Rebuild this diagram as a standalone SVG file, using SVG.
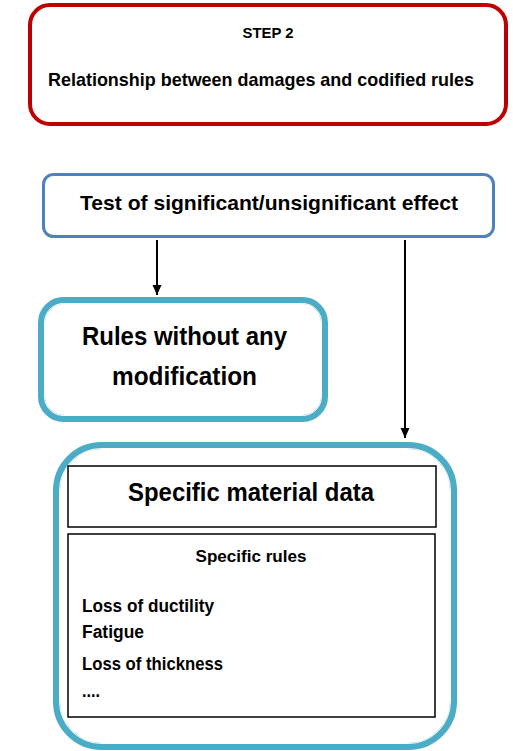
<svg xmlns="http://www.w3.org/2000/svg" width="513" height="751" viewBox="0 0 513 751">
<style>
text{font-family:"Liberation Sans",Arial,sans-serif;font-weight:bold;fill:#000}
.c{text-anchor:middle}
.dbl{fill:none;stroke:#4bacc6;stroke-width:7}
.dblin{fill:none;stroke:#fff;stroke-width:1}
.box{fill:#fff;stroke:#000;stroke-width:1.5}
.conn{stroke:#000;stroke-width:2;fill:none}
</style>
<defs>
<marker id="ah" markerWidth="10" markerHeight="11" refX="10" refY="5" orient="auto" markerUnits="userSpaceOnUse">
<path d="M0,0.5 L10,5 L0,9.5 z" fill="#000"/>
</marker>
</defs>
<rect width="513" height="751" fill="#fff"/>
<g id="step2">
<rect x="30" y="5" width="476" height="119" rx="20" fill="#fff" stroke="#c00000" stroke-width="4"/>
<text class="c" x="268" y="38" font-size="15" textLength="51" lengthAdjust="spacingAndGlyphs">STEP 2</text>
<text class="c" x="261" y="86" font-size="19" textLength="426" lengthAdjust="spacingAndGlyphs">Relationship between damages and codified rules</text>
</g>
<g id="test">
<rect x="43.5" y="174.5" width="450" height="62" rx="10" fill="#fff" stroke="#4f81bd" stroke-width="3"/>
<text class="c" x="269" y="210" font-size="21" textLength="378" lengthAdjust="spacingAndGlyphs">Test of significant/unsignificant effect</text>
</g>
<g id="connectors">
<line class="conn" x1="157" y1="240" x2="157" y2="295" marker-end="url(#ah)"/>
<line class="conn" x1="405" y1="240" x2="405" y2="438" marker-end="url(#ah)"/>
</g>
<g id="rules">
<rect x="41.5" y="300.5" width="283" height="118" rx="22" fill="#fff" class="dbl"/>
<rect x="44.5" y="303.5" width="277" height="112" rx="19" class="dblin"/>
<text class="c" x="184.5" y="345" font-size="26" textLength="205" lengthAdjust="spacingAndGlyphs">Rules without any</text>
<text class="c" x="184.5" y="385" font-size="26" textLength="145" lengthAdjust="spacingAndGlyphs">modification</text>
</g>
<g id="specific">
<rect x="56.5" y="445.5" width="397" height="301" rx="45" fill="#fff" class="dbl"/>
<rect x="59.5" y="448.5" width="391" height="295" rx="42" class="dblin"/>
<rect class="box" x="68" y="466" width="368" height="61"/>
<text class="c" x="251" y="501" font-size="25" textLength="246" lengthAdjust="spacingAndGlyphs">Specific material data</text>
<rect class="box" x="68" y="534" width="367" height="183"/>
<text class="c" x="251" y="562" font-size="17" textLength="111" lengthAdjust="spacingAndGlyphs">Specific rules</text>
<text x="82" y="612" font-size="18" textLength="132" lengthAdjust="spacingAndGlyphs">Loss of ductility</text>
<text x="82" y="638" font-size="18" textLength="62" lengthAdjust="spacingAndGlyphs">Fatigue</text>
<text x="82" y="670" font-size="18" textLength="141" lengthAdjust="spacingAndGlyphs">Loss of thickness</text>
<text x="82" y="697" font-size="18" textLength="18" lengthAdjust="spacingAndGlyphs">....</text>
</g>
</svg>
